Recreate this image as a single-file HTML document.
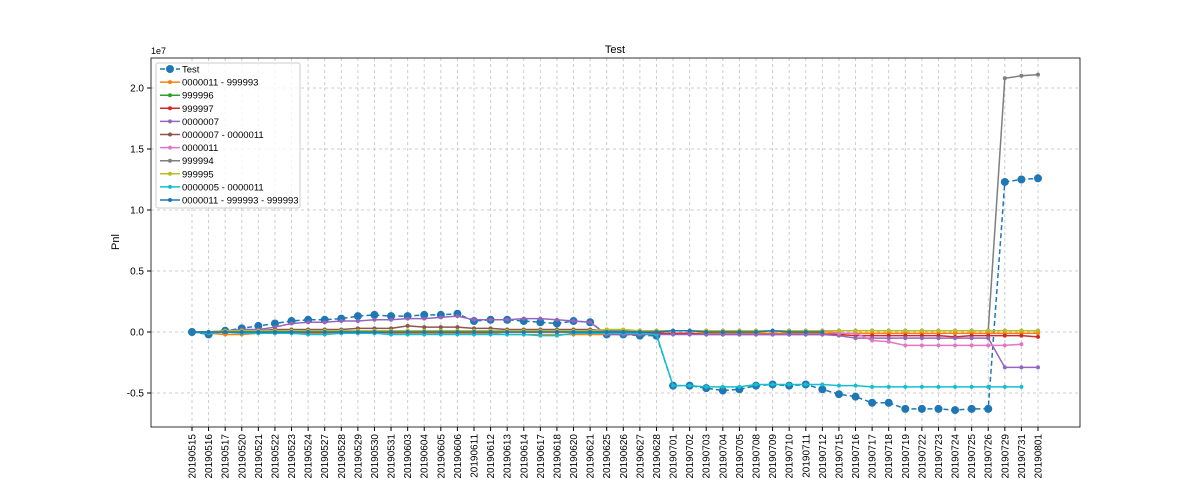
<!DOCTYPE html>
<html><head><meta charset="utf-8"><style>
body{margin:0;background:#fff;font-family:"Liberation Sans","DejaVu Sans",sans-serif;}
svg text{font-family:"Liberation Sans","DejaVu Sans",sans-serif;}
</style></head><body>
<svg id="chart" width="1200" height="480"></svg>
<script>
const categories=["20190515","20190516","20190517","20190520","20190521","20190522","20190523","20190524","20190527","20190528","20190529","20190530","20190531","20190603","20190604","20190605","20190606","20190611","20190612","20190613","20190614","20190617","20190618","20190620","20190621","20190625","20190626","20190627","20190628","20190701","20190702","20190703","20190704","20190705","20190708","20190709","20190710","20190711","20190712","20190715","20190716","20190717","20190718","20190719","20190722","20190723","20190724","20190725","20190726","20190729","20190731","20190801"];
const yTicks=[-0.5,0,0.5,1.0,1.5,2.0];
const testVals=[0,-0.02,0.01,0.03,0.05,0.07,0.09,0.10,0.10,0.11,0.13,0.14,0.13,0.13,0.14,0.14,0.15,0.09,0.10,0.10,0.09,0.08,0.07,0.09,0.08,-0.02,-0.02,-0.03,-0.03,-0.44,-0.44,-0.46,-0.48,-0.47,-0.44,-0.43,-0.44,-0.43,-0.47,-0.51,-0.53,-0.58,-0.58,-0.63,-0.63,-0.63,-0.64,-0.63,-0.63,1.23,1.25,1.26];
const s_0000011_999993=[0,-0.01,-0.02,-0.02,-0.01,-0.01,-0.01,-0.01,-0.01,-0.01,-0.01,-0.01,-0.01,-0.01,-0.01,-0.01,-0.01,-0.01,-0.01,-0.02,-0.02,-0.02,-0.02,-0.02,-0.02,-0.02,-0.02,-0.02,-0.01,-0.01,-0.01,-0.01,-0.01,-0.01,-0.01,-0.01,-0.01,-0.01,-0.01,-0.01,-0.01,-0.01,-0.01,-0.01,-0.01,-0.01,-0.01,-0.01,-0.01,-0.01,-0.01,-0.01];
const s_999996=[0,0,0.01,0.01,0.01,0.01,0.01,0.01,0.01,0.01,0.01,0.01,0.01,0.01,0.01,0.01,0.01,0.01,0.01,0.01,0.01,0.01,0.01,0.01,0.01,0.01,0.01,0.01,0.01,0.01,0.01,0.01,0.01,0.01,0.01,0.01,0.01,0.01,0.01,0.01,0.01,0.01,0.01,0.01,0.01,0.01,0.01,0.01,0.01,0.01,0.01,0.01];
const s_999997=[0,0,0,0,0,0,0,0,0,0,0,0,0,0,0,0,0,0,0,0,0,0,0,0,0,-0.01,-0.01,-0.01,-0.01,-0.01,-0.01,-0.02,-0.02,-0.02,-0.02,-0.02,-0.02,-0.02,-0.02,-0.02,-0.03,-0.03,-0.03,-0.03,-0.03,-0.03,-0.04,-0.03,-0.03,-0.03,-0.03,-0.04];
const s_0000007=[0,-0.01,0.01,0.02,0.02,0.04,0.07,0.08,0.08,0.09,0.09,0.10,0.10,0.11,0.11,0.12,0.13,0.10,0.10,0.10,0.11,0.11,0.10,0.09,0.08,-0.02,-0.02,-0.02,-0.02,-0.02,-0.02,-0.02,-0.02,-0.02,-0.02,-0.02,-0.02,-0.02,-0.02,-0.03,-0.05,-0.05,-0.05,-0.05,-0.05,-0.05,-0.05,-0.05,-0.05,-0.29,-0.29,-0.29];
const s_0000007_0000011=[0,0,0.01,0.01,0.01,0.02,0.02,0.02,0.02,0.02,0.03,0.03,0.03,0.05,0.04,0.04,0.04,0.03,0.03,0.02,0.02,0.02,0.02,0.02,0.02,0.01,0.01,0.01,0.01,0.01,0.01,0.01,0.01,0.01,0.01,0.01,0.01,0.01,0.01,0.01,0.01,0.01,0.01,0.01,0.01,0.01,0.01,0.01,0.01,0.01,0.01,0.01];
const s_0000011=[null,null,null,null,null,null,null,null,null,null,null,null,null,null,null,null,null,null,null,null,null,null,null,null,null,null,null,null,null,null,null,null,null,null,null,null,null,null,0.01,-0.01,-0.01,-0.07,-0.08,-0.11,-0.11,-0.11,-0.11,-0.11,-0.11,-0.11,-0.10,null];
const s_999994=[0,0,0.01,0.01,0.01,0.01,0.01,0.01,0.01,0.01,0.01,0.01,0.01,0.01,0.01,0.01,0.01,0.01,0.01,0.01,0.01,0.01,0.01,0.01,0.01,0.01,0.01,0.01,0.01,0.01,0.01,0.01,0.01,0.01,0.01,0.01,0.01,0.01,0.01,0.01,0.01,0.01,0.01,0.01,0.01,0.01,0.01,0.01,0.01,2.08,2.10,2.11];
const s_999995=[0,0,0.01,0.01,0.01,0.01,0.01,0.01,0.01,0.01,0.01,0.01,0.01,0.01,0.01,0.01,0.01,0.01,0.01,0.01,0.01,0.01,0.01,0.01,0.01,0.02,0.02,0.01,0.01,0.01,0.01,0.01,0.01,0.01,0.01,0.01,0.01,0.01,0.01,0.01,0.01,0.01,0.01,0.01,0.01,0.01,0.01,0.01,0.01,0.01,0.01,0.01];
const s_0000005_0000011=[0,-0.01,0,-0.01,-0.01,-0.01,-0.01,-0.02,-0.02,-0.01,-0.01,-0.01,-0.02,-0.02,-0.02,-0.02,-0.02,-0.02,-0.02,-0.02,-0.02,-0.03,-0.03,-0.01,-0.01,-0.01,-0.01,-0.01,-0.02,-0.44,-0.44,-0.45,-0.45,-0.45,-0.43,-0.43,-0.43,-0.43,-0.43,-0.44,-0.44,-0.45,-0.45,-0.45,-0.45,-0.45,-0.45,-0.45,-0.45,-0.45,-0.45,null];
const s_triple=[0,0,0,0,0,0,0,0,0,0,0,0,0,0,0,0,0,0,0,0,0,0,0,0,0,0,0,0,0,0.01,0.01,0,0,0,0,0.01,0,0,0,null,null,null,null,null,null,null,null,null,null,null,null,null];
const seriesNames=["0000011 - 999993","999996","999997","0000007","0000007 - 0000011","0000011","999994","999995","0000005 - 0000011","0000011 - 999993 - 999993"];
const seriesData=[s_0000011_999993,s_999996,s_999997,s_0000007,s_0000007_0000011,s_0000011,s_999994,s_999995,s_0000005_0000011,s_triple];
const colors=["#ff7f0e","#2ca02c","#d62728","#9467bd","#8c564b","#e377c2","#7f7f7f","#bcbd22","#17becf","#1f77b4"];

const NS="http://www.w3.org/2000/svg";
const svg=document.getElementById('chart');
const L=151,R=1080,T=58,B=427;
const x0=192,x1=1038;
function xs(i){return x0+(x1-x0)*i/(categories.length-1);}
function ys(v){return 332-v*122;}
function mk(tag,attrs,parent){const e=document.createElementNS(NS,tag);for(const k in attrs)e.setAttribute(k,attrs[k]);(parent||svg).appendChild(e);return e;}

const grid=mk('g',{});


categories.forEach((c,i)=>{
  mk('line',{x1:xs(i),x2:xs(i),y1:T,y2:B,stroke:'#ccc','stroke-dasharray':'3,3','stroke-width':1},grid);
  mk('line',{x1:xs(i),x2:xs(i),y1:B,y2:B+4,stroke:'#000'},grid);
  const t=mk('text',{x:0,y:0,'font-size':10,'text-anchor':'end',transform:`translate(${xs(i)+3.5},${B+7}) rotate(-90)`});
  t.textContent=c;
  
  
});
yTicks.forEach(v=>{
  mk('line',{x1:L,x2:R,y1:ys(v),y2:ys(v),stroke:'#ccc','stroke-dasharray':'3,3','stroke-width':1},grid);
  mk('line',{x1:L-4,x2:L,y1:ys(v),y2:ys(v),stroke:'#000'},grid);
  const t=mk('text',{x:L-7,y:ys(v)+3.5,'font-size':10,'text-anchor':'end'});
  t.textContent=v.toFixed(1);
  
  
});
function drawSeries(vals,color,name,big){
  const g=mk('g',{});
  
  
  let d='';let pen=false;
  vals.forEach((v,i)=>{if(v===null){pen=false;return;}d+=(pen?'L':'M')+xs(i)+','+ys(v);pen=true;});
  mk('path',{d:d,fill:'none',stroke:color,'stroke-width':1.5,'stroke-dasharray':big?'5,3':'none'},g);
  vals.forEach((v,i)=>{if(v===null)return;mk('circle',{cx:xs(i),cy:ys(v),r:big?4:2,fill:color},g);});
}
drawSeries(testVals,'#1f77b4','test',true);
seriesData.forEach((s,k)=>drawSeries(s,colors[k],seriesNames[k],false));
mk('rect',{x:L,y:T,width:R-L,height:B-T,fill:'none',stroke:'#000','stroke-width':0.8});

const lg=mk('g',{});


mk('rect',{x:156,y:63,width:144,height:145,fill:'#fff','fill-opacity':0.8,stroke:'#ccc',rx:2},lg);
const legNames=["Test"].concat(seriesNames), legCols=["#1f77b4"].concat(colors);
legNames.forEach((n,k)=>{
  const y=69+k*13.1;
  const e=mk('g',{},lg);
  
  
  mk('line',{x1:160,x2:180,y1:y,y2:y,stroke:legCols[k],'stroke-width':1.5,'stroke-dasharray':k==0?'5,3':'none'},e);
  mk('circle',{cx:170,cy:y,r:k==0?4:2,fill:legCols[k]},e);
  const t=mk('text',{x:182,y:y+3.5,'font-size':9.5},e);t.textContent=n;
});
const title=mk('text',{x:615,y:53,'font-size':11,'text-anchor':'middle'});title.textContent='Test';


const yl=mk('text',{x:0,y:0,'font-size':11,'text-anchor':'middle',transform:'translate(119,242) rotate(-90)'});yl.textContent='Pnl';


const off=mk('text',{x:151,y:54,'font-size':9});off.textContent='1e7';


</script>
</body></html>
